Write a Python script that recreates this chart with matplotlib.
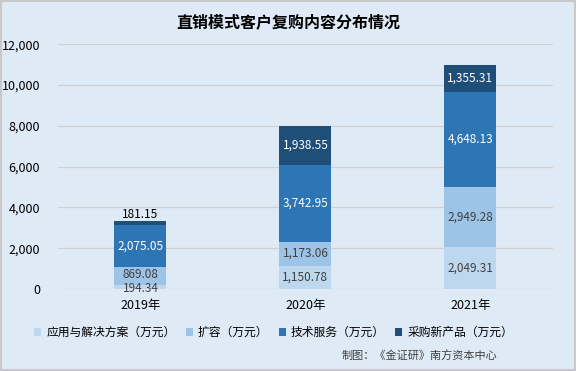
import numpy as np
import matplotlib
matplotlib.use("Agg")
import matplotlib.pyplot as plt
from matplotlib.patches import Rectangle

plt.rcParams['font.family'] = ['Noto Sans CJK SC', 'DejaVu Sans']

years = ['2019年', '2020年', '2021年']
series_names = ['应用与解决方案（万元）', '扩容（万元）', '技术服务（万元）', '采购新产品（万元）']
app_solution = [194.34, 1150.78, 2049.31]
expansion = [869.08, 1173.06, 2949.28]
tech_service = [2075.05, 3742.95, 4648.13]
new_product = [181.15, 1938.55, 1355.31]

colors = ['#BDD7EE', '#9DC3E6', '#2E75B6', '#1F4E79']
text_colors = ['#404040', '#404040', 'white', 'white']
bg = '#DEEAF6'

fig = plt.figure(figsize=(5.76, 3.71), dpi=100, facecolor=bg)
ax = fig.add_axes([0.1007, 0.221, 0.859, 0.66])
ax.set_facecolor(bg)

x = np.arange(len(years))
bottom = np.zeros(len(years))
for name, vals, c, tc in zip(series_names,
                             [app_solution, expansion, tech_service, new_product],
                             colors, text_colors):
    vals = np.array(vals)
    ax.bar(x, vals, 0.315, bottom=bottom, color=c, label=name, zorder=3)
    for i, v in enumerate(vals):
        label = f'{v:,.2f}'
        y = bottom[i] + v / 2
        va = 'center'
        color = tc
        if v < 300:
            if name == series_names[-1]:
                # small top segment: label above the stack
                y, va, color = bottom[i] + v + 20, 'bottom', 'black'
            else:
                y = bottom[i] + v / 2 - 60
        elif i == 0 and name == series_names[1]:
            y += 60
        ax.text(x[i], y, label, ha='center', va=va, fontsize=8.5,
                color=color, zorder=4)
    bottom += vals

ax.set_ylim(0, 12000)
ax.set_xlim(-0.5, 2.5)
ax.set_yticks(np.arange(0, 12001, 2000))
ax.set_yticklabels([f'{v:,}' for v in range(0, 12001, 2000)], fontsize=9, color='black')
ax.set_xticks(x)
ax.set_xticklabels(years, fontsize=9, color='black')
ax.tick_params(axis='both', length=0)
ax.tick_params(axis='y', pad=13)
ax.tick_params(axis='x', pad=7)
ax.grid(axis='y', color='#D0D0D0', linewidth=0.9, zorder=0)
for s in ax.spines.values():
    s.set_visible(False)

fig.text(0.5, 0.94, '直销模式客户复购内容分布情况', ha='center', va='center',
         fontsize=11.5, fontweight='bold')
fig.legend(loc='center', bbox_to_anchor=(0.475, 0.103), ncol=4, frameon=False,
           fontsize=8.5, handlelength=0.6, handleheight=0.6, handletextpad=0.4,
           columnspacing=0.9)
fig.text(0.863, 0.043, '制图：《金证研》南方资本中心', ha='right', va='center',
         fontsize=8, color='#404040')

fig.add_artist(Rectangle((0.001, 0.002), 0.997, 0.995, transform=fig.transFigure,
                         fill=False, edgecolor='#C8C8C8', linewidth=1.5))

fig.savefig('out.png', dpi=100, facecolor=bg)
